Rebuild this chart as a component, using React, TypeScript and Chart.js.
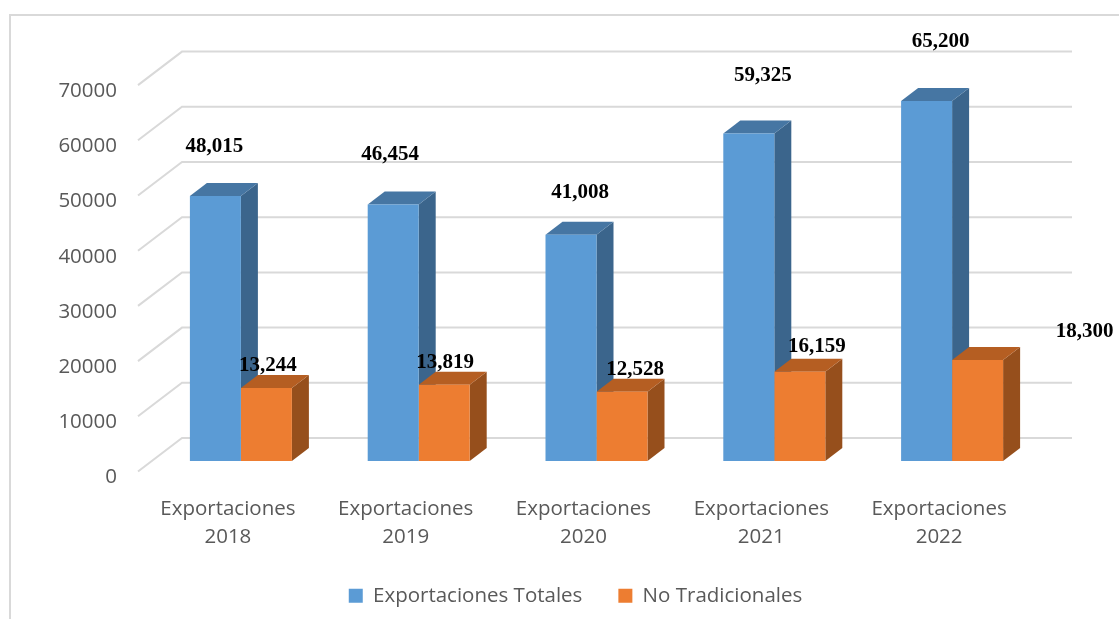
import React, { useEffect, useRef } from "react";
import { Chart, registerables } from "chart.js";

Chart.register(...registerables);

const categories = [
  ["Exportaciones", "2018"],
  ["Exportaciones", "2019"],
  ["Exportaciones", "2020"],
  ["Exportaciones", "2021"],
  ["Exportaciones", "2022"],
];
const totales = [48015, 46454, 41008, 59325, 65200];
const noTradicionales = [13244, 13819, 12528, 16159, 18300];

// Hand-placed data label nudges, relative to each bar's top centre
const totalesNudge = [[-1, -49.5], [-3, -49.6], [9, -41.6], [14, -57.5], [14, -60]];
const noTradNudge = [[1.5, -22], [1, -22.5], [13, -22], [17, -25], [107, -28]];

const BLUE = ["#5B9BD5", "#4676A3", "#3B658C"];
const ORANGE = ["#ED7D31", "#B55E22", "#964F1C"];
const GRID = "#D9D9D9";
const TEXT = "#595959";
const UI_FONT = "'Open Sans', sans-serif";
const DEPTH_X = 17;
const DEPTH_Y = 13;

const poly = (ctx: CanvasRenderingContext2D, color: string, pts: number[][]) => {
  ctx.fillStyle = color;
  ctx.beginPath();
  pts.forEach(([x, y], i) => (i ? ctx.lineTo(x, y) : ctx.moveTo(x, y)));
  ctx.closePath();
  ctx.fill();
};

const threeD = {
  id: "threeD",
  afterLayout(chart: any) {
    const lg = chart.legend;
    lg.left += 50;
    lg.right += 50;
    lg.top -= 3;
    lg.bottom -= 3;
  },
  beforeDatasetsDraw(chart: any) {
    const { ctx, scales } = chart;
    const x = scales.x;
    const y = scales.y;
    ctx.save();
    // outer frame
    ctx.strokeStyle = GRID;
    ctx.lineWidth = 2;
    ctx.beginPath();
    ctx.moveTo(10, 619);
    ctx.lineTo(10, 15);
    ctx.lineTo(1119, 15);
    ctx.stroke();
    // floor/wall gridlines
    y.ticks.forEach((t: any) => {
      const py = y.getPixelForValue(t.value);
      ctx.beginPath();
      ctx.moveTo(x.left - 14, py + 10.5);
      ctx.lineTo(x.left + 30, py - 23);
      ctx.lineTo(x.right + 31, py - 23);
      ctx.stroke();
    });
    // bar depth faces
    [BLUE, ORANGE].forEach((pal, di) => {
      chart.getDatasetMeta(di).data.forEach((b: any) => {
        const l = b.x - b.width / 2;
        const r = b.x + b.width / 2;
        poly(ctx, pal[2], [[r, b.y], [r + DEPTH_X, b.y - DEPTH_Y], [r + DEPTH_X, b.base - DEPTH_Y], [r, b.base]]);
        poly(ctx, pal[1], [[l, b.y], [l + DEPTH_X, b.y - DEPTH_Y], [r + DEPTH_X, b.y - DEPTH_Y], [r, b.y]]);
      });
    });
    ctx.restore();
  },
  afterDatasetsDraw(chart: any) {
    const { ctx } = chart;
    ctx.save();
    ctx.font = "bold 21px 'Liberation Serif', serif";
    ctx.fillStyle = "#000000";
    ctx.textAlign = "center";
    ctx.textBaseline = "middle";
    [totalesNudge, noTradNudge].forEach((nudge, di) => {
      const values = chart.data.datasets[di].data as number[];
      chart.getDatasetMeta(di).data.forEach((b: any, i: number) => {
        ctx.fillText(values[i].toLocaleString("en-US"), b.x + nudge[i][0], b.y + nudge[i][1]);
      });
    });
    ctx.restore();
  },
};

export default function App() {
  const ref = useRef<HTMLCanvasElement | null>(null);
  useEffect(() => {
    const chart = new Chart(ref.current as HTMLCanvasElement, {
      type: "bar",
      data: {
        labels: categories,
        datasets: [
          { label: "Exportaciones Totales", data: totales, backgroundColor: BLUE[0], borderWidth: 0 },
          { label: "No Tradicionales", data: noTradicionales, backgroundColor: ORANGE[0], borderWidth: 0 },
        ],
      } as any,
      plugins: [threeD],
      options: {
        responsive: false,
        animation: false,
        layout: { padding: { left: 10, right: 78, top: 74.6, bottom: 0 } },
        datasets: { bar: { categoryPercentage: 102 / 177.8, barPercentage: 1 } },
        scales: {
          x: {
            grid: { display: false, drawTicks: false },
            border: { display: false },
            afterFit: (a: any) => { a.height = 91.5; },
            ticks: {
              color: TEXT,
              font: { family: UI_FONT, size: 20.5, lineHeight: 1.4 },
              padding: 33.5,
              labelOffset: -13,
              maxRotation: 0,
              minRotation: 0,
              autoSkip: false,
            },
          },
          y: {
            min: 0,
            max: 70000,
            grid: { display: false, drawTicks: false },
            border: { display: false },
            afterFit: (a: any) => { a.width = 142; },
            ticks: {
              stepSize: 10000,
              color: TEXT,
              font: { family: UI_FONT, size: 20.5 },
              padding: 35,
              labelOffset: 16.5,
              callback: (v: any) => String(v),
            },
          },
        },
        plugins: {
          tooltip: { enabled: false },
          title: { display: false },
          legend: {
            position: "bottom",
            labels: {
              boxWidth: 14,
              boxHeight: 14,
              padding: 36,
              color: TEXT,
              font: { family: UI_FONT, size: 20.5 },
            },
          },
        },
      } as any,
    });
    return () => chart.destroy();
  }, []);
  return (
    <canvas
      ref={ref}
      width={1119}
      height={619}
      style={{ position: "fixed", left: 0, top: 0, width: 1119, height: 619, display: "block" }}
    />
  );
}
